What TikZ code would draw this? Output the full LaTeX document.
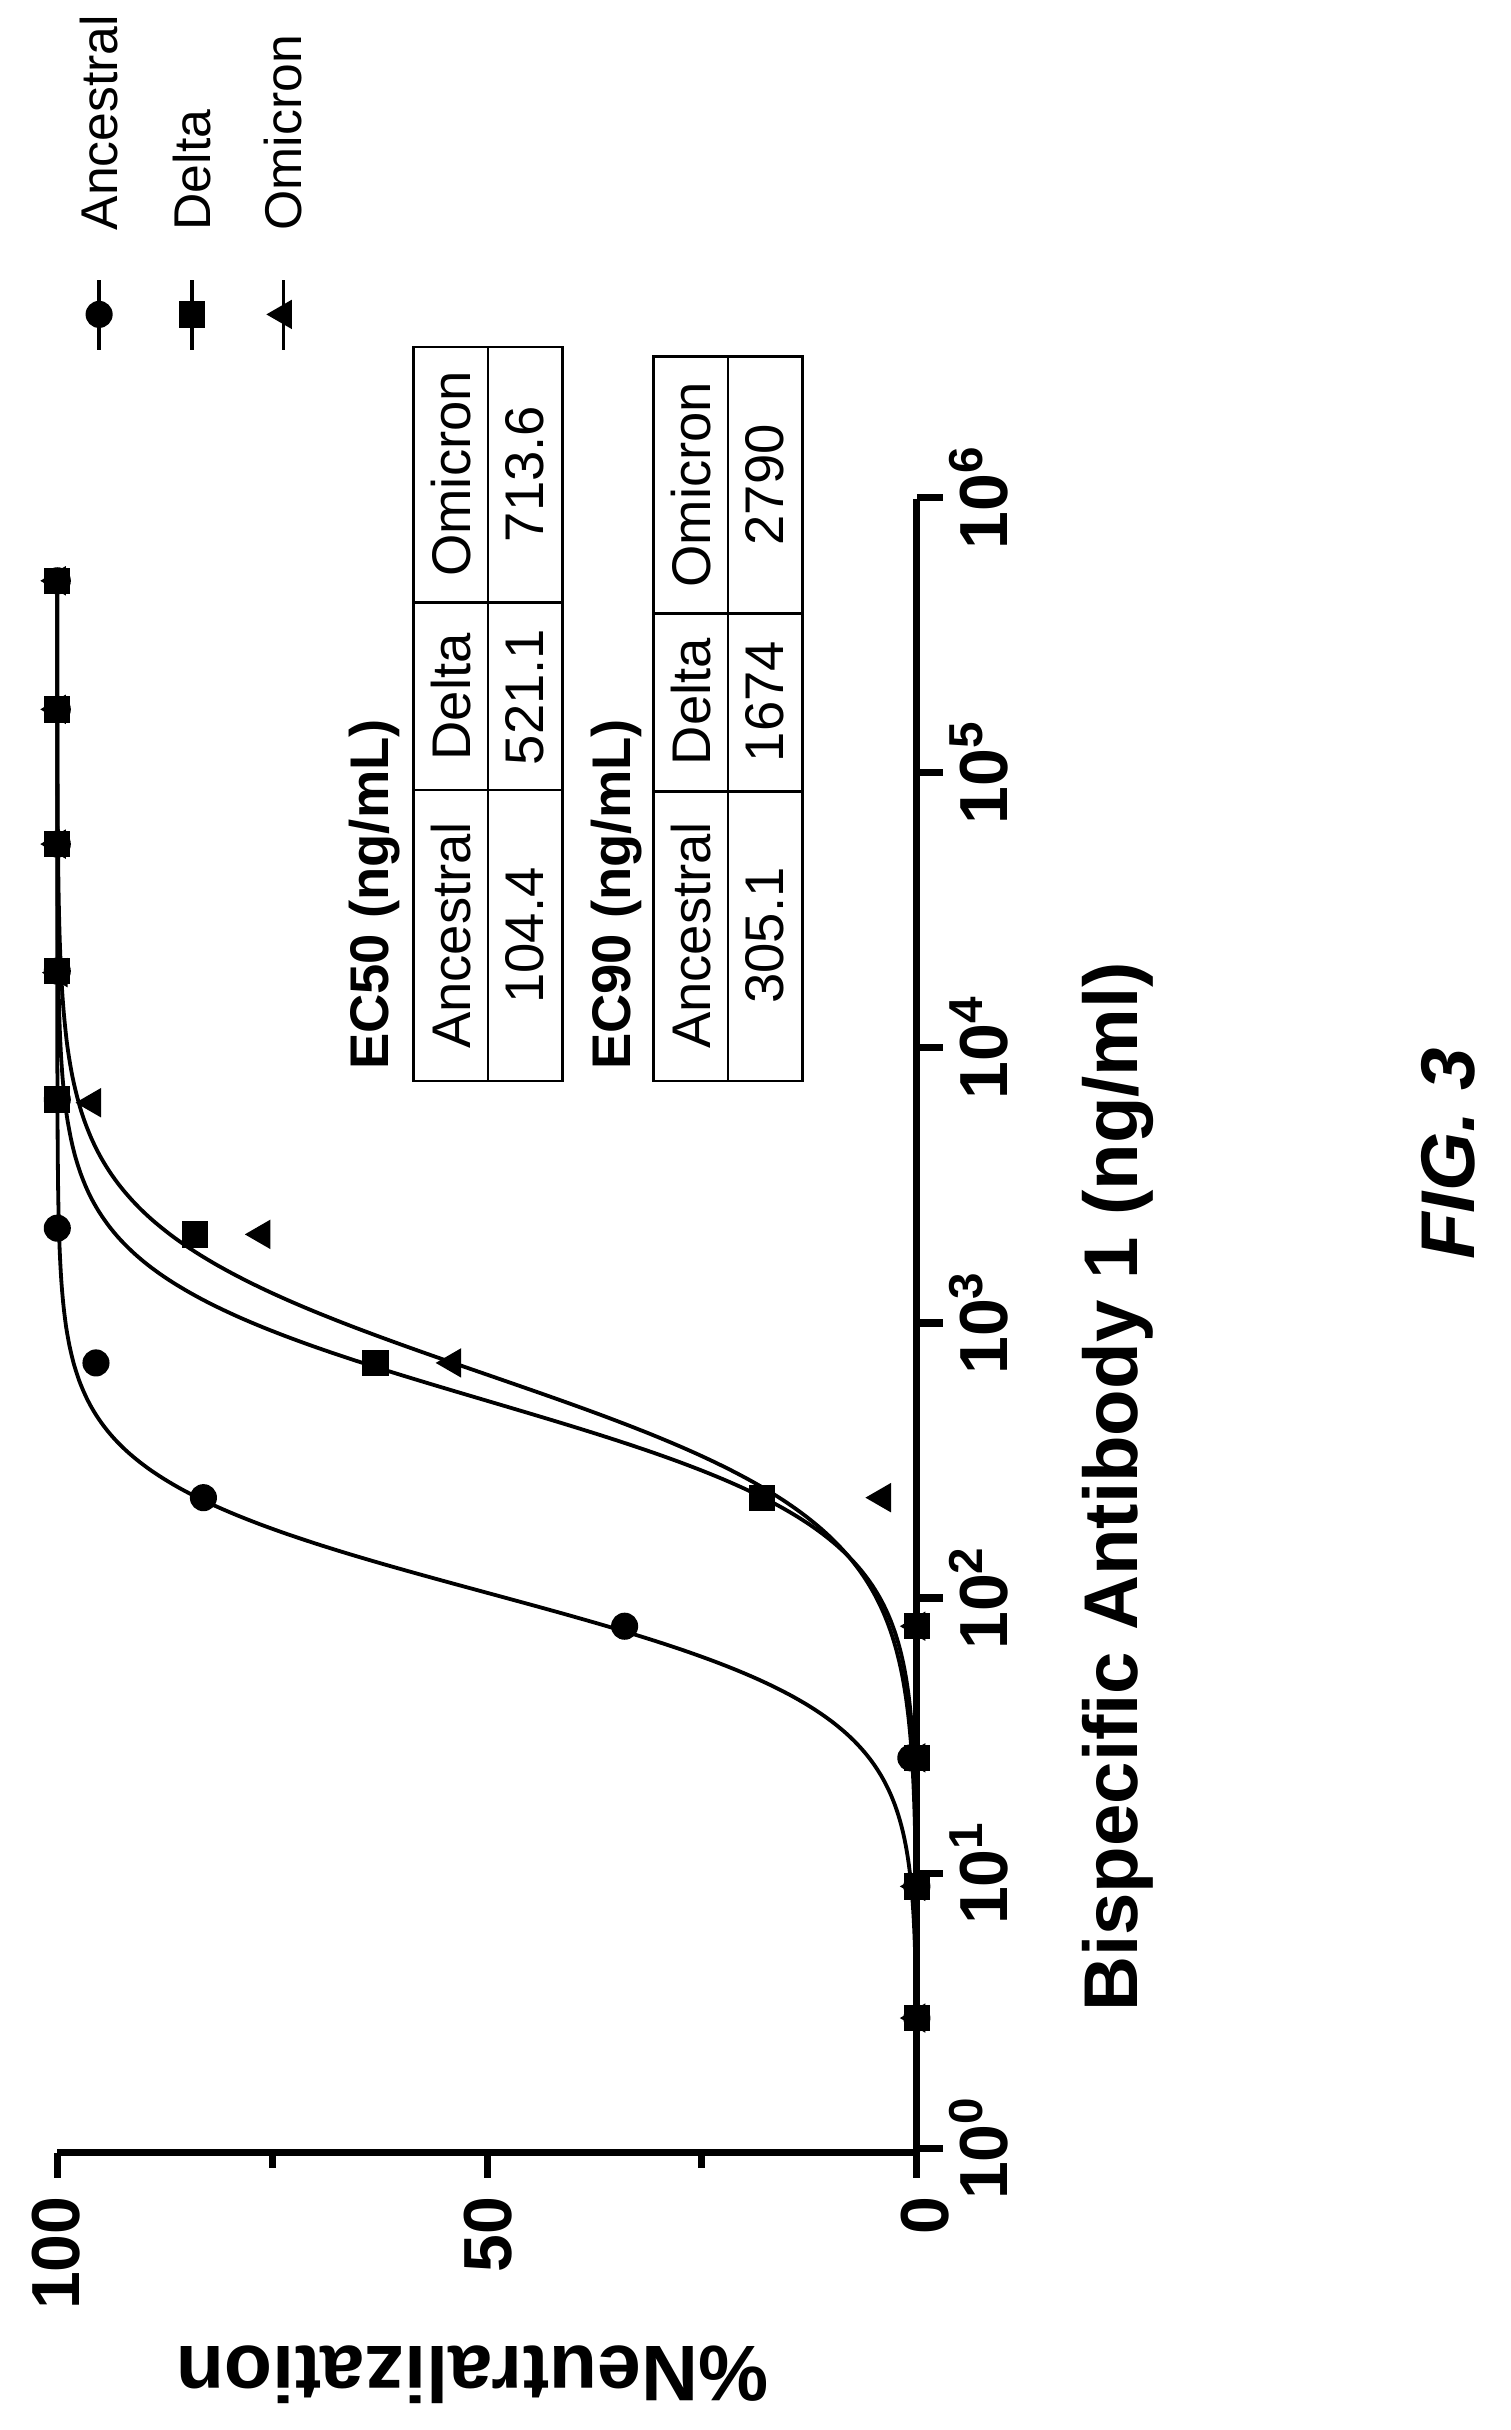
\documentclass[tikz,border=0pt]{standalone}
\usepackage{fontspec}
\setmainfont{Liberation Sans}
\usetikzlibrary{shapes.geometric}

\tikzset{
	axis/.style={line width=2.6pt},
	fit/.style={line width=1.4pt},
	dotA/.style={circle, fill, inner sep=0, minimum size=17.5*0.02cm},
	dotD/.style={rectangle, fill, inner sep=0, minimum size=17*0.02cm},
	dotO/.style={regular polygon, regular polygon sides=3, fill, inner sep=0, minimum size=22*0.02cm, rotate=90},
	lbl/.style={font=\fontsize{20}{22}\selectfont, rotate=90},
	tick/.style={font=\bfseries\fontsize{25}{27}\selectfont, rotate=90}
}
% Hill curve in log units: ec50 (log), slope
\newcommand{\hillcurve}[2]{%
	\draw[fit] plot[domain=0.5:5.7, samples=160, smooth]
		({592-555/(1+10^(#2*(#1-\x)))}, {1387-177.6*\x});
}

\begin{document}
\begin{tikzpicture}[x=0.02cm, y=-0.02cm]
	\useasboundingbox (0,0) rectangle (975,1569);
	% axes
	\draw[axis] (37,1390) -- (592,1390) -- (592,322);
	\foreach \p in {37,315,592}
		\draw[axis] (\p,1390) -- (\p,1406);
	\foreach \p in {176,453}
		\draw[axis] (\p,1390) -- (\p,1400);
	\foreach \d in {0,...,6}
		\draw[axis] (592,{1387-177.6*\d}) -- (609,{1387-177.6*\d});
	% tick labels
	\node[tick, anchor=east] (t0) at (597,1412) {0};
	\node[tick, anchor=east] (t50) at (315,1412) {50};
	\node[tick, anchor=east] (t100) at (36,1412) {100};
	\foreach \d in {0,...,6}
		\node[tick] (e\d) at (632,{1387-177.6*\d}) {10$^{\mathbf{\d}}$};
	% axis titles
	\node[font=\bfseries\fontsize{29}{31}\selectfont, rotate=180] (ytitle) at (305,1533) {\%Neutralization};
	\node[font=\bfseries\fontsize{28}{30}\selectfont, rotate=90] (xtitle) at (722,960) {Bispecific Antibody 1 (ng/ml)};
	\node[font=\bfseries\itshape\fontsize{28}{30}\selectfont, rotate=90] (fig) at (935,745) {FIG. 3};
	% fitted curves
	\hillcurve{2.812}{1.61}
	\hillcurve{2.717}{1.88}
	\hillcurve{2.019}{2.05}
	% data points
	\foreach \y/\p [count=\i] in {1303/0,1218/0,1135/0,1050/0,967/4,880/54,797/76.2,712/95.9,628/99.8,545/100,458/100,375/100}
		\node[dotO] (om\i) at ({592-5.55*\p},\y) {};
	\foreach \y/\p [count=\i] in {1303/0,1218/0,1135/0.7,1050/34,967/83,880/95.5,793/100,710/100,627/100,545/100,458/100,375/100}
		\node[dotA] (an\i) at ({592-5.55*\p},\y) {};
	\foreach \y/\p [count=\i] in {1303/0,1218/0,1135/0,1050/0,967/18,880/63,797/84,710/100,627/100,545/100,458/100,375/100}
		\node[dotD] (de\i) at ({592-5.55*\p},\y) {};
	% legend
	\foreach \x/\s/\t [count=\i] in {64/dotA/Ancestral,124/dotD/Delta,183/dotO/Omicron} {
		\coordinate (la\i) at (\x,181);
		\coordinate (lb\i) at (\x,226);
		\draw[line width=1.4pt] (la\i) -- (lb\i);
		\node[\s] (lm\i) at (\x,203) {};
		\node[lbl, anchor=west, font=\fontsize{19}{21}\selectfont] (lt\i) at (\x,155) {\t};
	}
	% EC tables
	\node[font=\bfseries\fontsize{20}{22}\selectfont, rotate=90, anchor=west] (ec50) at (242,697) {EC50 (ng/mL)};
	\node[font=\bfseries\fontsize{20}{22}\selectfont, rotate=90, anchor=west] (ec90) at (398,697) {EC90 (ng/mL)};
	\draw[line width=1pt] (267,224) rectangle (363,698);
	\draw[line width=1pt] (315,224) -- (315,698) (267,389) -- (363,389) (267,510) -- (363,510);
	\draw[line width=1pt] (422,230) rectangle (518,698);
	\draw[line width=1pt] (470,230) -- (470,698) (422,396) -- (518,396) (422,511) -- (518,511);
	\node[lbl] (a1) at (291,604) {Ancestral};
	\node[lbl] (a2) at (291,450) {Delta};
	\node[lbl] (a3) at (291,306) {Omicron};
	\node[lbl] (a4) at (339,604) {104.4};
	\node[lbl] (a5) at (339,450) {521.1};
	\node[lbl] (a6) at (339,306) {713.6};
	\node[lbl] (b1) at (446,604) {Ancestral};
	\node[lbl] (b2) at (446,453) {Delta};
	\node[lbl] (b3) at (446,313) {Omicron};
	\node[lbl] (b4) at (494,604) {305.1};
	\node[lbl] (b5) at (494,453) {1674};
	\node[lbl] (b6) at (494,313) {2790};
\end{tikzpicture}
\end{document}
